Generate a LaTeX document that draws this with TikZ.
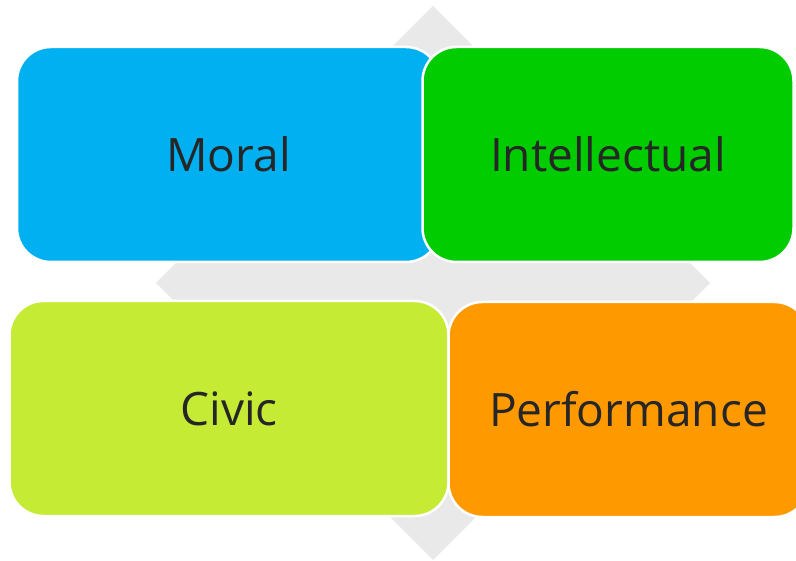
\documentclass[tikz,border=0pt]{standalone}
\usepackage{fontspec}
\setmainfont{Open Sans}
\usetikzlibrary{positioning}
\definecolor{moralblue}{RGB}{0,176,240}
\definecolor{intgreen}{RGB}{0,204,0}
\definecolor{civiclime}{RGB}{197,235,53}
\definecolor{perforange}{RGB}{255,153,0}
\definecolor{crossgrey}{RGB}{233,233,233}
\definecolor{labelgrey}{RGB}{38,38,38}
\begin{document}
\begin{tikzpicture}[x=1pt,y=-1pt,
	nodes={draw=white, line width=2.5pt, rounded corners=34pt, inner sep=0pt,
	       minimum height=215pt, text=labelgrey, font=\fontsize{46}{50}\selectfont}]
		\clip (0,0) rectangle (796,561);
		\useasboundingbox (0,0) rectangle (796,561);
		% grey diamond behind the four boxes
		\fill[crossgrey] (433,6) -- (710,283) -- (433,560) -- (156,283) -- cycle;
		\node (moral) [fill = moralblue, minimum width=423pt] at (228.5,154.5) {Moral};
		\node (intel) [fill = intgreen, minimum width=371pt] at (608,154.5) {Intellectual};
		\node (civic) [fill = civiclime, minimum width=439pt] at (229,408.5) {Civic};
		\node (perf) [fill = perforange, minimum width=360pt] at (628.5,409.5) {Performance};
\end{tikzpicture}
\end{document}
